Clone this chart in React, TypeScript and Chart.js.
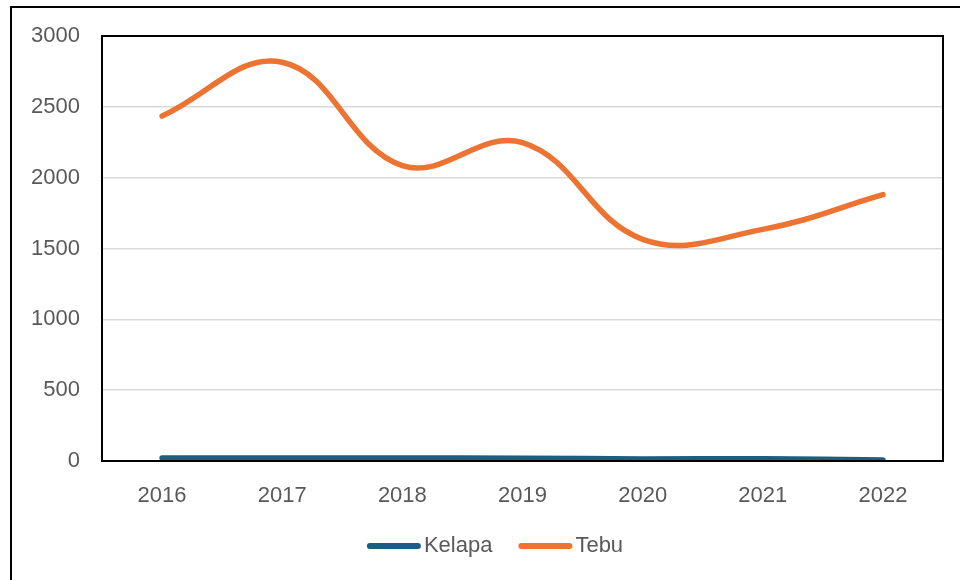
import React, { useEffect, useRef } from "react";
import { Chart, registerables } from "chart.js";

Chart.register(...registerables);

const years = ["2016", "2017", "2018", "2019", "2020", "2021", "2022"];
const kelapa = [21, 21, 21, 20, 14, 16, 7];
const tebu = [2435, 2815, 2085, 2248, 1565, 1635, 1880];
const yTicks = [0, 500, 1000, 1500, 2000, 2500, 3000];

const font = { family: "Liberation Sans", size: 22 };

const frame = {
  id: "frame",
  afterDraw(chart: any) {
    const { ctx, chartArea } = chart;
    ctx.save();
    ctx.strokeStyle = "#000";
    ctx.lineWidth = 2;
    ctx.strokeRect(chartArea.left, chartArea.top, chartArea.right - chartArea.left, chartArea.bottom - chartArea.top);
    // custom legend (line swatches with round caps, tight text)
    const swatch = 54;
    const gap = 3;
    const itemGap = 26;
    ctx.font = `${font.size}px ${font.family}`;
    const items = chart.data.datasets.map((d: any) => ({
      label: d.label,
      color: d.borderColor,
      w: swatch + gap + ctx.measureText(d.label).width,
    }));
    const total = items.reduce((a: number, it: any) => a + it.w, 0) + itemGap * (items.length - 1);
    let x = 495 - total / 2;
    const y = 546;
    ctx.textBaseline = "middle";
    ctx.textAlign = "left";
    for (const it of items) {
      ctx.strokeStyle = it.color;
      ctx.lineWidth = 6;
      ctx.lineCap = "round";
      ctx.beginPath();
      ctx.moveTo(x + 3, y);
      ctx.lineTo(x + swatch - 3, y);
      ctx.stroke();
      ctx.fillStyle = "#595959";
      ctx.fillText(it.label, x + swatch + gap, y);
      x += it.w + itemGap;
    }
    ctx.restore();
  },
};

export default function App() {
  const ref = useRef<HTMLCanvasElement>(null);
  useEffect(() => {
    document.body.style.margin = "0";
    const chart = new Chart(ref.current!, {
      type: "line",
      data: {
        labels: years,
        datasets: [
          {
            label: "Kelapa",
            data: kelapa,
            borderColor: "#1B5E82",
            backgroundColor: "#1B5E82",
            borderWidth: 5.5,
            tension: 0.4,
            pointRadius: 0,
            borderCapStyle: "round",
          },
          {
            label: "Tebu",
            data: tebu,
            borderColor: "#ED7332",
            backgroundColor: "#ED7332",
            borderWidth: 5.5,
            tension: 0.4,
            pointRadius: 0,
            borderCapStyle: "round",
          },
        ],
      },
      options: {
        animation: false,
        responsive: false,
        layout: { padding: { top: 36, right: 17, left: 0, bottom: 67 } },
        plugins: {
          legend: { display: false },
          tooltip: { enabled: false },
        },
        scales: {
          x: {
            offset: true,
            grid: { display: false },
            border: { color: "#000", width: 2 },
            ticks: { color: "#595959", font, padding: 14, maxRotation: 0 },
            afterFit: (s: any) => { s.height = 52; },
          },
          y: {
            min: 0,
            max: 3000,
            afterBuildTicks: (s: any) => { s.ticks = yTicks.map((v) => ({ value: v })); },
            grid: { color: "#D9D9D9", lineWidth: 1.5, drawTicks: false },
            border: { color: "#000", width: 2 },
            ticks: { color: "#595959", font, padding: 22, callback: (v: any) => String(v) },
            afterFit: (s: any) => { s.width = 102; },
          },
        },
      },
      plugins: [frame],
    });
    return () => chart.destroy();
  }, []);
  return (
    <div style={{ position: "fixed", left: 0, top: 0, width: 960, height: 580, overflow: "hidden", background: "#fff" }}>
      <div style={{ position: "absolute", left: 10, top: 6, width: 980, height: 600, border: "2px solid #000", boxSizing: "border-box" }} />
      <canvas ref={ref} width={960} height={580} style={{ position: "absolute", left: 0, top: 0 }} />
    </div>
  );
}
